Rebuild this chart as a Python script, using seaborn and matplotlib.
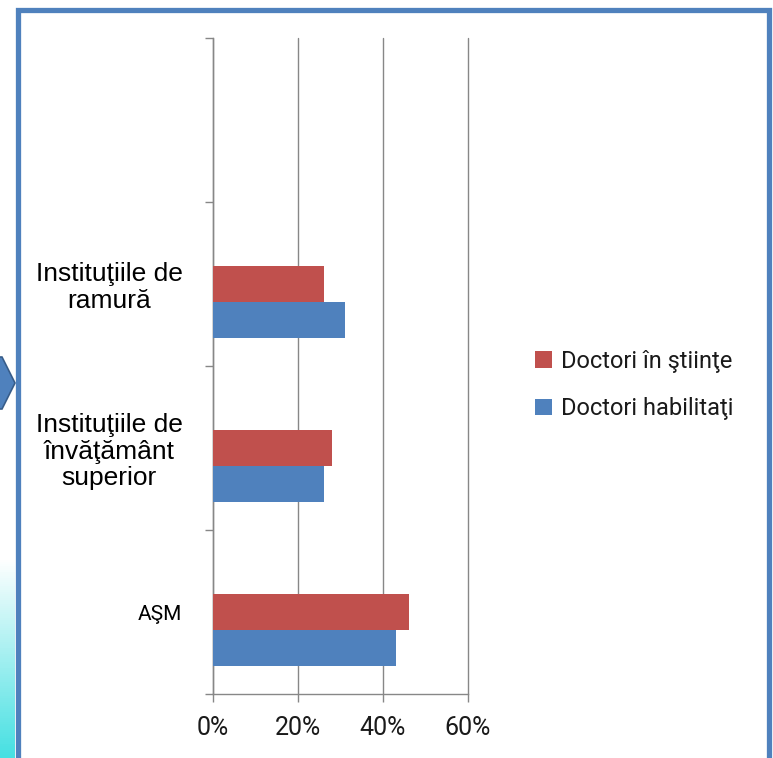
import numpy as np
import pandas as pd
import matplotlib
matplotlib.use("Agg")
import matplotlib.pyplot as plt
import seaborn as sns
from matplotlib.patches import Patch, Rectangle, Polygon
from matplotlib.ticker import PercentFormatter, FixedLocator
from matplotlib.colors import LinearSegmentedColormap

# Date din grafic (ponderi, 0-1)
categorii = ['Instituţiile de\nramură', 'Instituţiile de\nînvăţământ\nsuperior', 'AŞM']
doctori_stiinte = [0.26, 0.28, 0.46]
doctori_habilitati = [0.31, 0.26, 0.43]
serii = ['Doctori în ştiinţe', 'Doctori habilitaţi']
x_ticks = [0, 0.2, 0.4, 0.6]

# Excel-ul original are un slot gol sus si o serie goala deasupra fiecarei perechi
ordine_categorii = [''] + categorii
ordine_serii = ['_gol'] + serii

RED = '#C0504D'
BLUE = '#4F81BD'
GRID = '#878787'

sns.set_style("white")
plt.rcParams['font.family'] = ['Roboto', 'DejaVu Sans']

df = pd.DataFrame({
    'Categorie': categorii * 2,
    'Pondere': doctori_stiinte + doctori_habilitati,
    'Serie': [serii[0]] * len(categorii) + [serii[1]] * len(categorii),
})

fig = plt.figure(figsize=(7.73, 7.58), dpi=100)
W, H = 773, 758

# decor: gradient stanga, rama albastra, sageata
ax_bg = fig.add_axes([0, 0, 15 / W, 200 / H])
grad = np.linspace(0, 1, 100).reshape(-1, 1)
cmap = LinearSegmentedColormap.from_list('cyan', ['#46E0E2', '#FFFFFF'])
ax_bg.imshow(grad, aspect='auto', cmap=cmap, origin='lower')
ax_bg.set_axis_off()

fig.patches.append(Rectangle((17.5 / W, -0.05), (769 - 17.5) / W, 1.05 - 10 / H,
                             transform=fig.transFigure, fill=False,
                             edgecolor=BLUE, linewidth=3.8, zorder=5))
fig.patches.append(Polygon([(-5 / W, 1 - 357 / H), (2 / W, 1 - 357 / H),
                            (15 / W, 1 - 383 / H), (2 / W, 1 - 409 / H),
                            (-5 / W, 1 - 409 / H)],
                           closed=True, transform=fig.transFigure,
                           facecolor=BLUE, edgecolor='#385D8A', linewidth=1.2, zorder=4))

ax = fig.add_axes([213 / W, 64 / H, 255 / W, 656 / H])
sns.barplot(data=df, y='Categorie', x='Pondere', hue='Serie',
            order=ordine_categorii, hue_order=ordine_serii,
            palette={'_gol': 'white', serii[0]: RED, serii[1]: BLUE},
            saturation=1, width=0.66, gap=0, legend=False, ax=ax, orient='h',
            edgecolor='none', linewidth=0, zorder=3)

ax.set_xlim(0, 0.6)
ax.set_ylim(3.5, -0.5)
ax.set_xticks(x_ticks)
ax.xaxis.set_major_formatter(PercentFormatter(xmax=1, decimals=0))
ax.set_xlabel('')
ax.set_ylabel('')

ax.xaxis.grid(True, color=GRID, linewidth=1, zorder=0)
for gl in ax.get_xgridlines():
    gl.set_clip_on(False)
ax.yaxis.grid(False)
for side in ['top', 'right']:
    ax.spines[side].set_visible(False)
for side in ['left', 'bottom']:
    ax.spines[side].set_color(GRID)
    ax.spines[side].set_linewidth(1)

ax.tick_params(axis='x', bottom=True, length=6, width=1, color=GRID, direction='out',
               labelsize=18, pad=10, labelcolor='#1a1a1a')
ax.tick_params(axis='y', which='major', left=False, length=0, pad=22)
ax.yaxis.set_minor_locator(FixedLocator([-0.5, 0.5, 1.5, 2.5, 3.5]))
ax.tick_params(axis='y', which='minor', left=True, length=6, width=1, color=GRID,
               direction='out')

for lbl in ax.get_yticklabels():
    if lbl.get_text() == 'AŞM':
        lbl.set_fontfamily(['Roboto', 'DejaVu Sans'])
        lbl.set_fontsize(15)
    else:
        lbl.set_fontfamily(['Liberation Sans', 'DejaVu Sans'])
        lbl.set_fontsize(19)
        lbl.set_multialignment('center')
        lbl.set_linespacing(1.12)
    lbl.set_color('black')

handles = [Patch(facecolor=RED, edgecolor='none'), Patch(facecolor=BLUE, edgecolor='none')]
fig.legend(handles, serii, loc='center left', bbox_to_anchor=(526 / W, 1 - 385 / H),
           frameon=False, fontsize=17, handlelength=0.7, handleheight=0.7,
           handletextpad=0.4, labelspacing=1.05, borderaxespad=0, labelcolor='#1a1a1a')

fig.savefig('out.png', dpi=100, facecolor='white')
